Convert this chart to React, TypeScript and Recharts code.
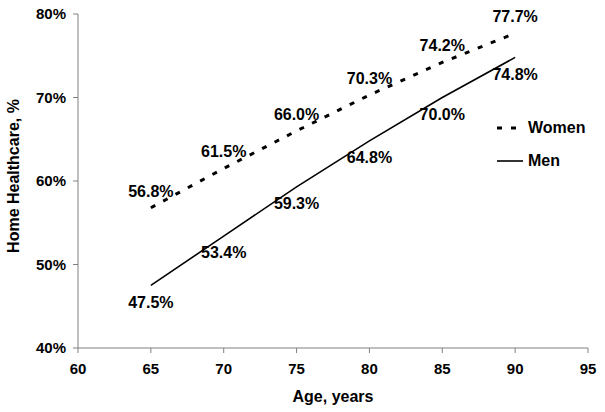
import { LabelList, Line, LineChart, XAxis, YAxis } from "recharts";

const ages = [65, 70, 75, 80, 85, 90];
const women = [56.8, 61.5, 66.0, 70.3, 74.2, 77.7];
const men = [47.5, 53.4, 59.3, 64.8, 70.0, 74.8];
const xTicks = [60, 65, 70, 75, 80, 85, 90, 95];
const yTicks = [40, 50, 60, 70, 80];
const seriesNames = ["Women", "Men"];

const data = ages.map((age, i) => ({ age, women: women[i], men: men[i] }));

const font = "'Liberation Sans', Arial, sans-serif";
const axisColor = "#808080";
const womenDash = "5 9";

function LegendBox() {
  const styles = [
    { dash: womenDash, width: 3, len: 20 },
    { dash: undefined, width: 1.6, len: 26 },
  ];
  return (
    <div
      style={{
        position: "absolute",
        left: 497,
        top: 111,
        fontFamily: font,
        fontWeight: 700,
        fontSize: 16,
      }}
    >
      {seriesNames.map((name, i) => (
        <div key={name} style={{ display: "flex", alignItems: "center", height: 33 }}>
          <svg width={30} height={10}>
            <line
              x1={0}
              y1={5}
              x2={styles[i].len}
              y2={5}
              stroke="#000"
              strokeWidth={styles[i].width}
              strokeDasharray={styles[i].dash}
            />
          </svg>
          <span style={{ marginLeft: 1 }}>{name}</span>
        </div>
      ))}
    </div>
  );
}

export default function App() {
  return (
    <div style={{ position: "absolute", left: 0, top: 0, width: 605, height: 412, background: "#fff" }}>
      <LineChart
        width={605}
        height={412}
        data={data}
        margin={{ top: 14, right: 17, bottom: 0, left: 0 }}
      >
        <XAxis
          dataKey="age"
          type="number"
          domain={[60, 95]}
          ticks={xTicks}
          stroke={axisColor}
          tickLine={{ stroke: axisColor }}
          tickSize={5}
          tick={{ fill: "#000", fontSize: 15, fontWeight: 700, fontFamily: font }}
          tickMargin={10}
          height={64}
          label={{
            value: "Age, years",
            position: "insideBottom",
            offset: 10,
            fill: "#000",
            fontSize: 16,
            fontWeight: 700,
            fontFamily: font,
          }}
        />
        <YAxis
          type="number"
          domain={[40, 80]}
          ticks={yTicks}
          tickFormatter={(v) => `${v}%`}
          stroke={axisColor}
          tickLine={{ stroke: axisColor }}
          tickSize={5}
          tick={{ fill: "#000", fontSize: 15, fontWeight: 700, fontFamily: font }}
          tickMargin={7}
          width={78}
          label={{
            value: "Home Healthcare, %",
            angle: -90,
            position: "insideLeft",
            offset: 0,
            dx: 13,
            dy: -5,
            fill: "#000",
            fontSize: 16,
            fontWeight: 700,
            fontFamily: font,
            style: { textAnchor: "middle" },
          }}
        />
        <Line
          name={seriesNames[0]}
          dataKey="women"
          type="linear"
          stroke="#000"
          strokeWidth={3}
          strokeDasharray={womenDash}
          dot={false}
          isAnimationActive={false}
        >
          <LabelList
            dataKey="women"
            position="top"
            offset={11}
            formatter={(v: any) => `${Number(v).toFixed(1)}%`}
            style={{ fill: "#000", fontSize: 16, fontWeight: 700, fontFamily: font }}
          />
        </Line>
        <Line
          name={seriesNames[1]}
          dataKey="men"
          type="linear"
          stroke="#000"
          strokeWidth={1.6}
          dot={false}
          isAnimationActive={false}
        >
          <LabelList
            dataKey="men"
            position="bottom"
            offset={11}
            formatter={(v: any) => `${Number(v).toFixed(1)}%`}
            style={{ fill: "#000", fontSize: 16, fontWeight: 700, fontFamily: font }}
          />
        </Line>
      </LineChart>
      <LegendBox />
    </div>
  );
}
